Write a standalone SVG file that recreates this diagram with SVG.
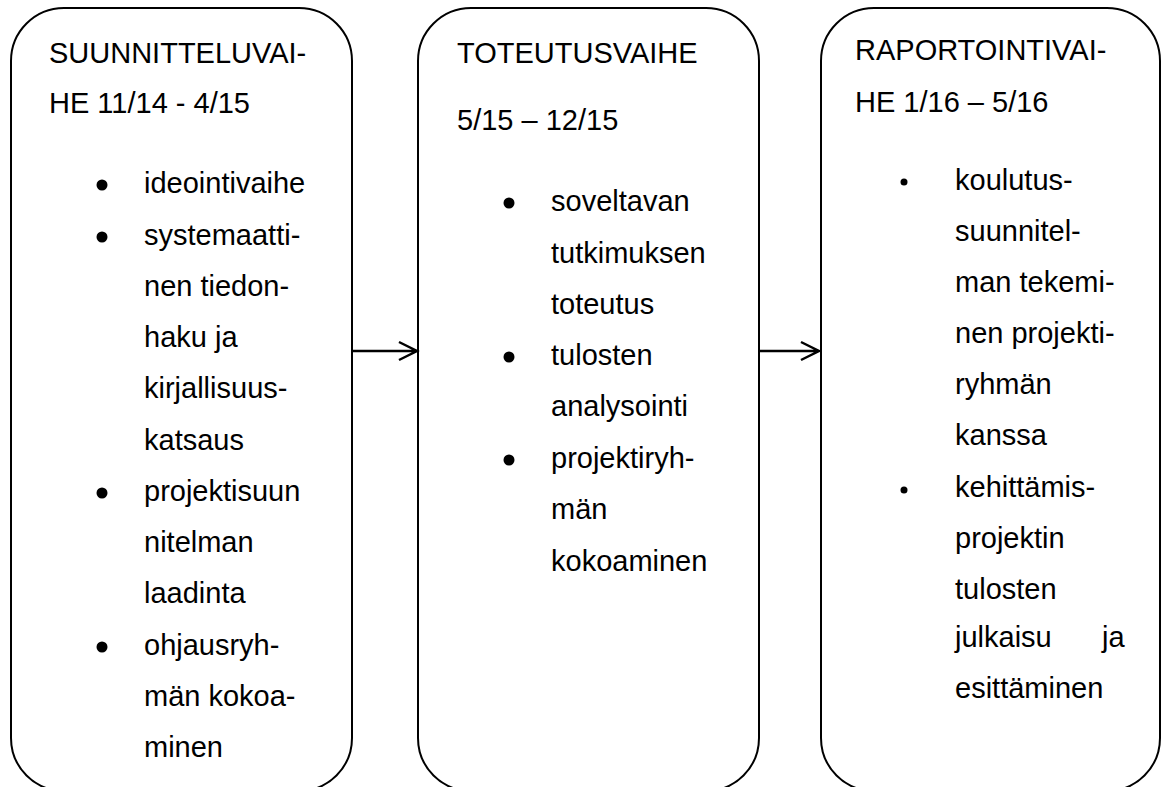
<svg xmlns="http://www.w3.org/2000/svg" width="1162" height="787" viewBox="0 0 1162 787">
<style>
.box{fill:#fff;stroke:#000;stroke-width:2}
text{font-family:"Liberation Sans",Arial,sans-serif;font-size:29px;fill:#000}
.b{fill:#000}
.con{stroke:#000;stroke-width:2.5;fill:none}
</style>
<rect width="1162" height="787" fill="#fff"/>
<g id="node-suunnittelu">
<rect class="box" x="11" y="8" width="341" height="783" rx="53" ry="53"/>
<text x="49" y="63">SUUNNITTELUVAI-</text>
<text x="49" y="113">HE 11/14 - 4/15</text>
<circle class="b" cx="102" cy="185" r="5.5"/>
<circle class="b" cx="102" cy="237" r="5.5"/>
<circle class="b" cx="102" cy="493" r="5.5"/>
<circle class="b" cx="102" cy="647" r="5.5"/>
<text x="144" y="193">ideointivaihe</text>
<text x="144" y="245">systemaatti-</text>
<text x="144" y="296">nen tiedon-</text>
<text x="144" y="347">haku ja</text>
<text x="144" y="398">kirjallisuus-</text>
<text x="144" y="450">katsaus</text>
<text x="144" y="501">projektisuun</text>
<text x="144" y="552">nitelman</text>
<text x="144" y="603">laadinta</text>
<text x="144" y="655">ohjausryh-</text>
<text x="144" y="706">män kokoa-</text>
<text x="144" y="757">minen</text>
</g>
<g id="node-toteutus">
<rect class="box" x="418" y="8" width="341" height="783" rx="53" ry="53"/>
<text x="457" y="63">TOTEUTUSVAIHE</text>
<text x="457" y="130">5/15 – 12/15</text>
<circle class="b" cx="509" cy="203" r="5.5"/>
<circle class="b" cx="509" cy="357" r="5.5"/>
<circle class="b" cx="509" cy="460" r="5.5"/>
<text x="551" y="211">soveltavan</text>
<text x="551" y="263">tutkimuksen</text>
<text x="551" y="314">toteutus</text>
<text x="551" y="365">tulosten</text>
<text x="551" y="416">analysointi</text>
<text x="551" y="468">projektiryh-</text>
<text x="551" y="519">män</text>
<text x="551" y="571">kokoaminen</text>
</g>
<g id="node-raportointi">
<rect class="box" x="821" y="8" width="339" height="783" rx="53" ry="53"/>
<text x="855" y="60">RAPORTOINTIVAI-</text>
<text x="855" y="112">HE 1/16 – 5/16</text>
<circle class="b" cx="904" cy="182" r="3.5"/>
<circle class="b" cx="904" cy="490" r="3.5"/>
<text x="955" y="190">koulutus-</text>
<text x="955" y="241">suunnitel-</text>
<text x="955" y="292">man tekemi-</text>
<text x="955" y="343">nen projekti-</text>
<text x="955" y="394">ryhmän</text>
<text x="955" y="445">kanssa</text>
<text x="955" y="497">kehittämis-</text>
<text x="955" y="548">projektin</text>
<text x="955" y="599">tulosten</text>
<text x="955" y="647">julkaisu</text>
<text x="1102" y="647">ja</text>
<text x="955" y="698">esittäminen</text>
</g>
<g id="connectors">
<path class="con" d="M352 351 H417 M399 342 L417 351 L399 360"/>
<path class="con" d="M759 351 H819 M801 342 L819 351 L801 360"/>
</g>
</svg>
